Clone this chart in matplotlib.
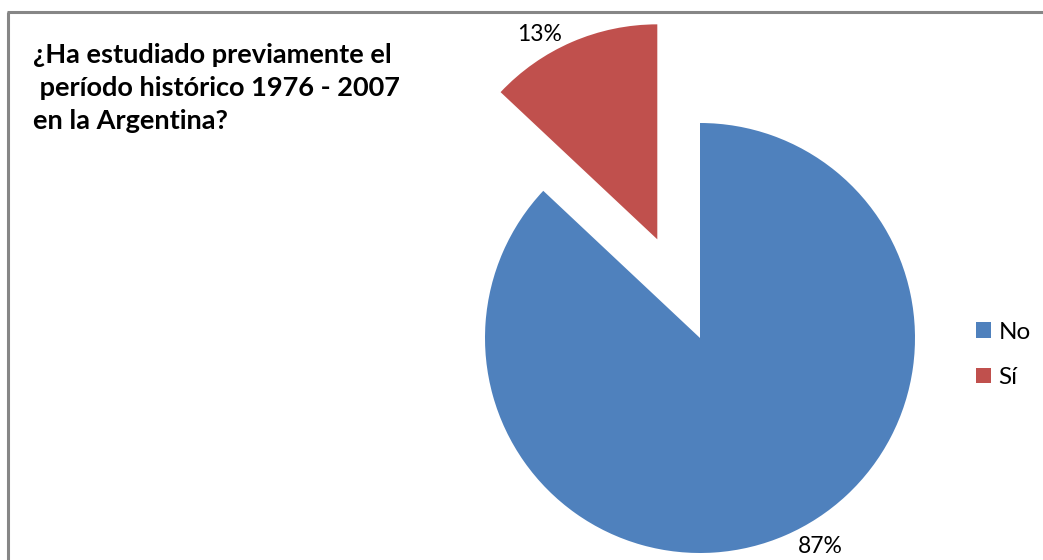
import matplotlib.pyplot as plt
from matplotlib.lines import Line2D
import numpy as np

# data
categories = ['No', 'Sí']
values = [87, 13]
colors = ['#4F81BD', '#C0504D']
explode = [0, 0.5]
title_lines = ['¿Ha estudiado previamente el', ' período histórico 1976 - 2007', 'en la Argentina?']

plt.rcParams['font.family'] = ['Lato', 'DejaVu Sans']

W, H = 1043, 560
fig = plt.figure(figsize=(W / 100, H / 100), dpi=100)
ax = fig.add_axes([0, 0, 1, 1])

wedges, texts, autotexts = ax.pie(values, colors=colors, explode=explode,
                                  startangle=90, counterclock=False,
                                  autopct='%1.0f%%', pctdistance=1.12,
                                  textprops={'fontsize': 16.5, 'color': 'black'},
                                  wedgeprops={'linewidth': 0})

# move the percent labels a bit around the rim (Excel puts them outside end)
label_angles = [-60, 120]
label_dist = [1.12, 1.10]
for w, t, a, d in zip(wedges, autotexts, label_angles, label_dist):
    cx, cy = w.center
    r = w.r * d
    t.set_position((cx + r * np.cos(np.radians(a)), cy + r * np.sin(np.radians(a))))
    t.set_ha('center')
    t.set_va('center')

# pie center at (700, 338) px, radius 215 px
R = 215
cx_px, cy_px = 700, 338
ax.set_xlim(-cx_px / R, (W - cx_px) / R)
ax.set_ylim(-(H - cy_px) / R, cy_px / R)
ax.set_aspect('auto')
ax.axis('off')

# title
fig.text(33 / W, 1 - 43 / H, '\n'.join(title_lines), fontsize=19.5, fontweight='bold',
         ha='left', va='top', linespacing=1.45)

# legend
ax.legend(wedges, categories, loc='center left', bbox_to_anchor=(976 / W, 1 - 355 / H),
          bbox_transform=fig.transFigure, frameon=False, fontsize=17.5,
          handlelength=0.62, handleheight=0.62, handletextpad=0.3, labelspacing=1.0,
          borderpad=0, borderaxespad=0)

# chart border (cropped at right and bottom)
fig.add_artist(Line2D([8 / W, 8 / W], [0, 1 - 12 / H], transform=fig.transFigure,
                      color='#868686', linewidth=2.2, solid_capstyle='butt'))
fig.add_artist(Line2D([7 / W, 1], [1 - 12 / H, 1 - 12 / H], transform=fig.transFigure,
                      color='#868686', linewidth=2.2, solid_capstyle='butt'))

fig.savefig('out.png', dpi=100)
